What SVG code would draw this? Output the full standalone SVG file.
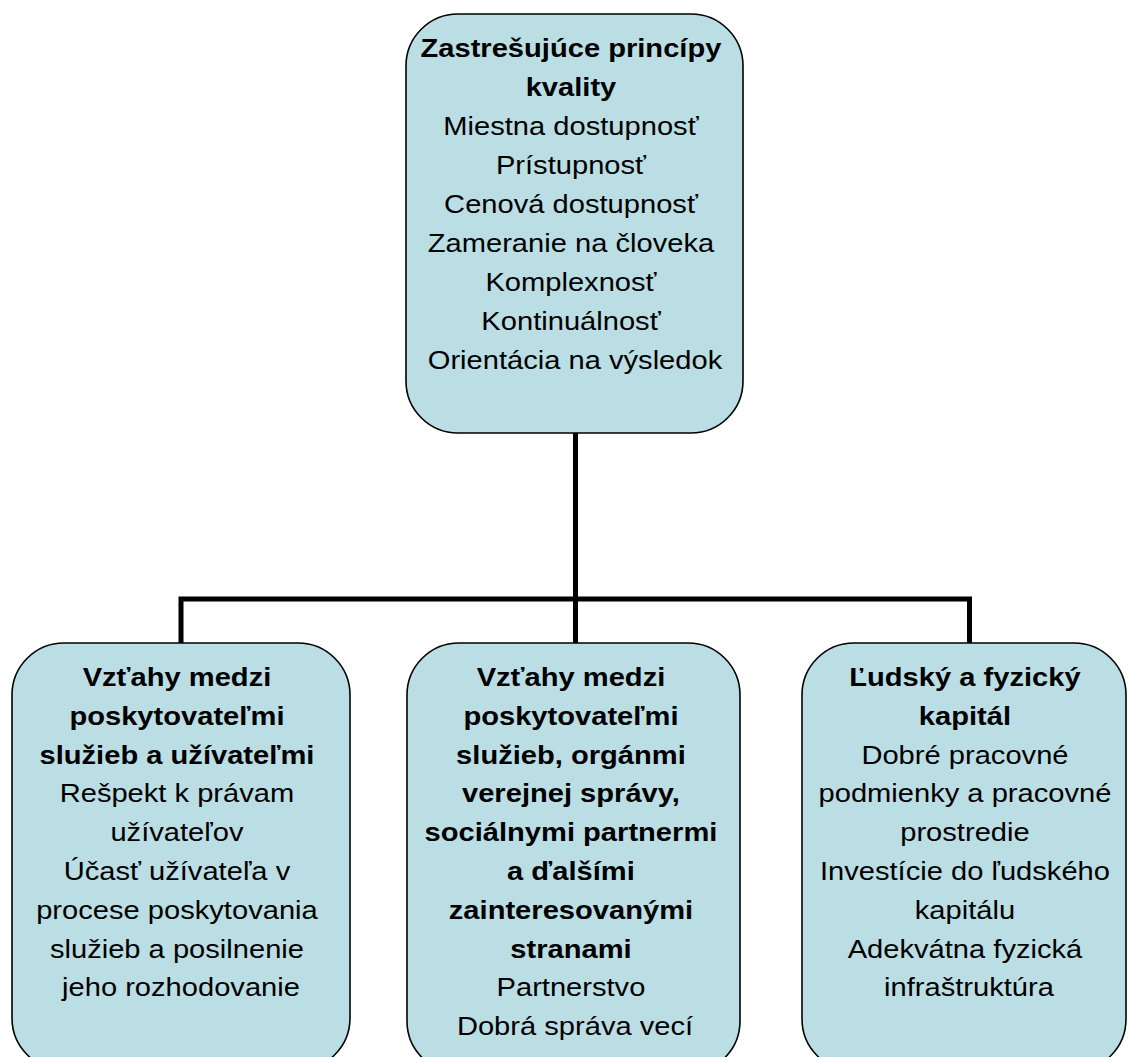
<svg xmlns="http://www.w3.org/2000/svg" width="1128" height="1057" viewBox="0 0 1128 1057">
<style>
.box{fill:#BADEE4;stroke:#000;stroke-width:1.6}
.conn{fill:none;stroke:#000;stroke-width:5;stroke-linejoin:miter;stroke-linecap:butt}
text{font-family:"Liberation Sans",Arial,sans-serif;font-size:26px;fill:#000;text-anchor:middle}
.b{font-weight:bold}
</style>
<rect width="1128" height="1057" fill="#fff"/>
<g id="connectors">
<path class="conn" d="M575.5,433 V643"/>
<path class="conn" d="M181,643 V599 H969.5 V643"/>
</g>
<g id="node-top">
<rect class="box" x="406" y="14" width="337" height="419" rx="52" ry="52"/>
<text transform="translate(575 0) scale(1.12 1)">
<tspan class="b" x="0" y="57">Zastrešujúce princípy</tspan>
<tspan class="b" x="0" y="96">kvality</tspan>
<tspan x="0" y="135">Miestna dostupnosť</tspan>
<tspan x="0" y="174">Prístupnosť</tspan>
<tspan x="0" y="213">Cenová dostupnosť</tspan>
<tspan x="0" y="252">Zameranie na človeka</tspan>
<tspan x="0" y="291">Komplexnosť</tspan>
<tspan x="0" y="330">Kontinuálnosť</tspan>
<tspan x="0" y="369">Orientácia na výsledok</tspan>
</text>
</g>
<g id="node-left">
<rect class="box" x="12" y="643" width="338" height="427" rx="52" ry="52"/>
<text transform="translate(181 0) scale(1.12 1)">
<tspan class="b" x="0" y="686">Vzťahy medzi</tspan>
<tspan class="b" x="0" y="724.8">poskytovateľmi</tspan>
<tspan class="b" x="0" y="763.6">služieb a užívateľmi</tspan>
<tspan x="0" y="802.4">Rešpekt k právam</tspan>
<tspan x="0" y="841.2">užívateľov</tspan>
<tspan x="0" y="880">Účasť užívateľa v</tspan>
<tspan x="0" y="918.8">procese poskytovania</tspan>
<tspan x="0" y="957.6">služieb a posilnenie</tspan>
<tspan x="0" y="996.4">jeho rozhodovanie</tspan>
</text>
</g>
<g id="node-middle">
<rect class="box" x="407" y="643" width="333" height="430" rx="52" ry="52"/>
<text transform="translate(575 0) scale(1.12 1)">
<tspan class="b" x="0" y="686">Vzťahy medzi</tspan>
<tspan class="b" x="0" y="724.8">poskytovateľmi</tspan>
<tspan class="b" x="0" y="763.6">služieb, orgánmi</tspan>
<tspan class="b" x="0" y="802.4">verejnej správy,</tspan>
<tspan class="b" x="0" y="841.2">sociálnymi partnermi</tspan>
<tspan class="b" x="0" y="880">a ďalšími</tspan>
<tspan class="b" x="0" y="918.8">zainteresovanými</tspan>
<tspan class="b" x="0" y="957.6">stranami</tspan>
<tspan x="0" y="996.4">Partnerstvo</tspan>
<tspan x="0" y="1035.2">Dobrá správa vecí</tspan>
</text>
</g>
<g id="node-right">
<rect class="box" x="802" y="643" width="324" height="428" rx="52" ry="52"/>
<text transform="translate(969 0) scale(1.12 1)">
<tspan class="b" x="0" y="686">Ľudský a fyzický</tspan>
<tspan class="b" x="0" y="724.8">kapitál</tspan>
<tspan x="0" y="763.6">Dobré pracovné</tspan>
<tspan x="0" y="802.4">podmienky a pracovné</tspan>
<tspan x="0" y="841.2">prostredie</tspan>
<tspan x="0" y="880">Investície do ľudského</tspan>
<tspan x="0" y="918.8">kapitálu</tspan>
<tspan x="0" y="957.6">Adekvátna fyzická</tspan>
<tspan x="0" y="996.4">infraštruktúra</tspan>
</text>
</g>
</svg>
